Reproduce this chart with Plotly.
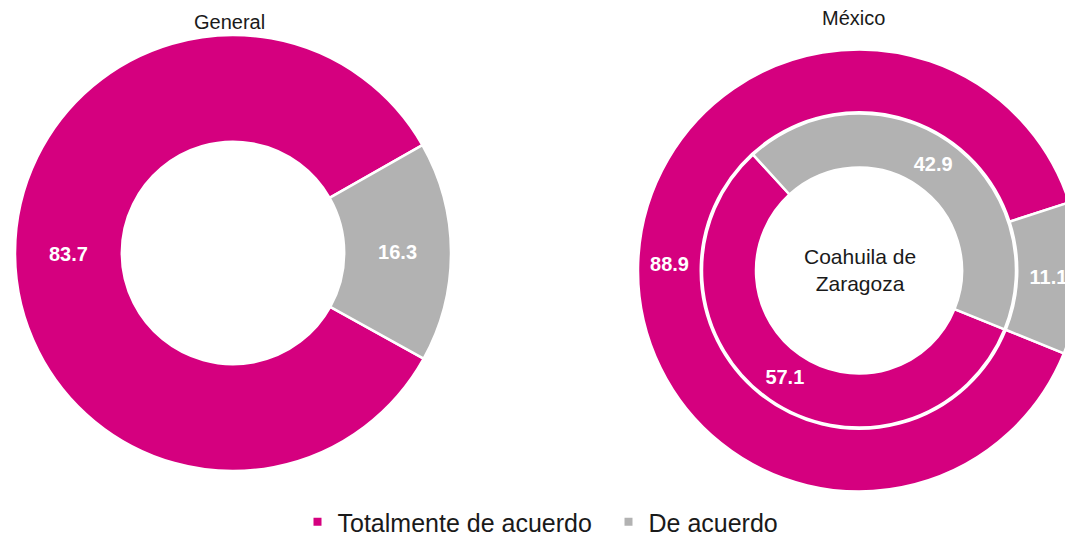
import plotly.graph_objects as go

categories = ["Totalmente de acuerdo", "De acuerdo"]
general_values = [83.7, 16.3]
mexico_values = [88.9, 11.1]
coahuila_values = [57.1, 42.9]
colors = ["#D5007F", "#B2B2B2"]

W, H = 1073, 536
OFF = 8  # page body margin offset of the figure inside the window
FONT = "Liberation Sans, Arial, sans-serif"


def dom(cx, cy, r):
    cx, cy = cx - OFF, cy - OFF
    return dict(x=[max(0, (cx - r) / W), min(1, (cx + r) / W)],
                y=[max(0, (H - cy - r) / H), min(1, (H - cy + r) / H)])


def ring(values, domain, hole, rotation):
    return go.Pie(
        labels=categories, values=values, domain=domain, hole=hole,
        sort=False, direction="clockwise", rotation=rotation,
        marker=dict(colors=colors, line=dict(color="white", width=2.5)),
        texttemplate="%{value:.1f}", textposition="inside",
        insidetextorientation="horizontal",
        textfont=dict(family=FONT, size=20, color="white", weight="bold"),
        showlegend=False, hoverinfo="label+value",
    )


fig = go.Figure()
fig.add_trace(ring(general_values, dom(233, 253, 218), 0.51, 119))
fig.add_trace(ring(mexico_values, dom(859, 270.5, 221), 0.716, 112))
fig.add_trace(ring(coahuila_values, dom(859, 270.5, 157), 0.656, 112))

for name, c in zip(categories, colors):
    fig.add_trace(go.Scatter(x=[None], y=[None], mode="markers", name=name,
                             marker=dict(symbol="square", size=8, color=c)))


def label(text, x, y, size):
    fig.add_annotation(text=text, x=(x - OFF) / W, y=1 - (y - OFF) / H,
                       xref="paper", yref="paper",
                       xanchor="center", yanchor="middle", showarrow=False,
                       font=dict(family=FONT, size=size, color="#1a1a1a"))


label("General", 229, 22, 20)
label("México", 853, 18, 20)
label("Coahuila de<br>Zaragoza", 860, 270, 21)

fig.update_layout(
    width=W, height=H, autosize=False,
    margin=dict(l=0, r=0, t=0, b=0, autoexpand=False),
    paper_bgcolor="white", plot_bgcolor="white",
    xaxis=dict(visible=False), yaxis=dict(visible=False),
    legend=dict(orientation="h", x=0.5 + 64 / W, xanchor="center",
                y=1 - (522 - OFF) / H, yanchor="middle",
                font=dict(family=FONT, size=25, color="#1a1a1a"),
                itemwidth=30, entrywidth=266, bgcolor="rgba(0,0,0,0)"),
)

fig.write_html("out.html")
